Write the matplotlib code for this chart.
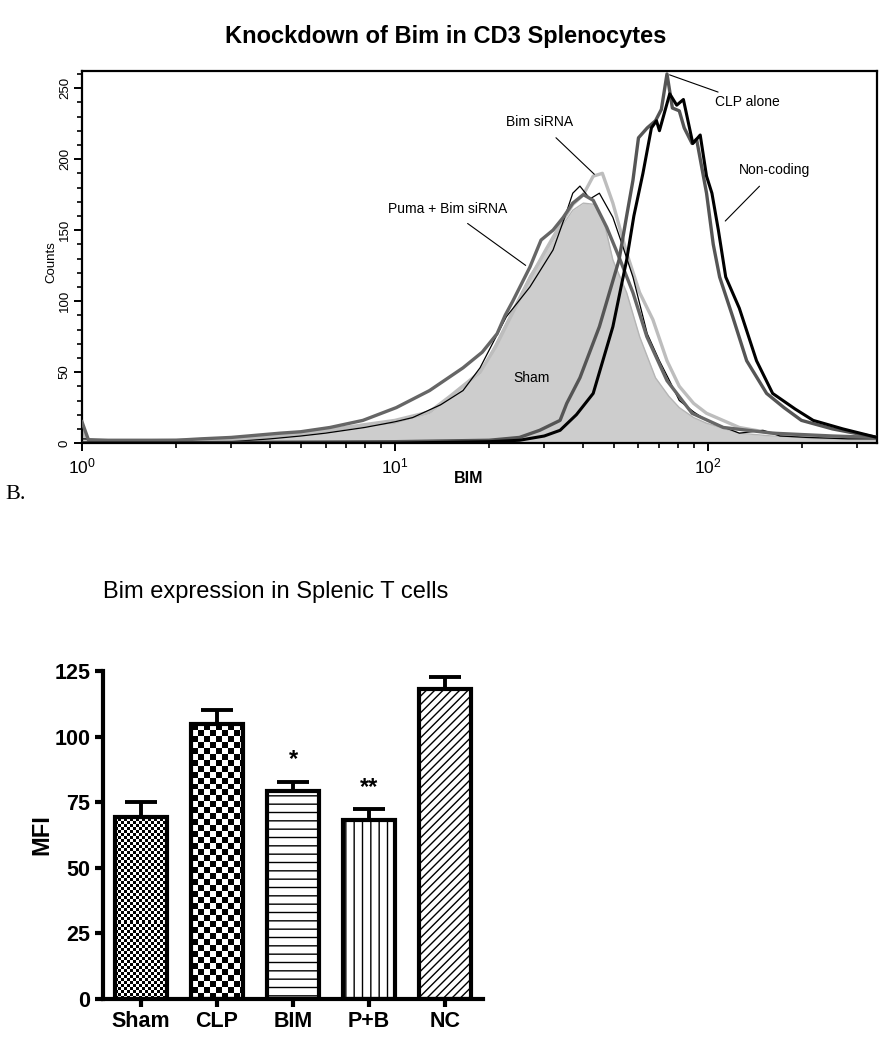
import numpy as np
import matplotlib
matplotlib.use("Agg")
import matplotlib.pyplot as plt
from matplotlib.ticker import LogLocator, MultipleLocator

plt.rcParams['font.family'] = ['Liberation Sans', 'DejaVu Sans']
plt.rcParams['hatch.linewidth'] = 1.0

# ---- panel A: flow histograms (BIM fluorescence vs counts) ----
sham_x = [1.0, 1.05, 2, 3, 4, 5, 6, 7, 8, 10, 12.9, 15, 18.7, 21, 23.8, 27, 30.5, 34, 37, 40, 44, 47,
          49.7, 55, 60.5, 68, 75, 81, 90, 99, 126, 160, 207, 280, 347]
sham_y = [12, 1, 1, 2, 4, 6, 8, 10, 12, 14, 21, 32, 49, 70, 94, 118, 136, 152, 164, 169, 168, 152,
          129, 106, 75, 46, 33, 25, 18, 14, 7, 5, 4, 3, 3]

bim_x = [1.0, 1.05, 2, 3, 4, 5, 6, 8, 10, 12.9, 15, 18.7, 21, 23.8, 27, 30.5, 34, 37, 40, 43, 46,
         49.7, 55, 60.5, 66.7, 74, 81, 90, 99, 126, 160, 207, 280, 347]
bim_y = [10, 1, 2, 3, 5, 7, 9, 13, 16, 22, 33, 50, 68, 92, 116, 137, 155, 168, 175, 188, 190,
         169, 134, 106, 87, 58, 40, 28, 21, 11, 7, 4, 3, 3]

thin_x = [1.0, 2, 3, 4, 5, 6, 8, 10, 11.4, 14, 16.5, 18.7, 22.7, 27, 32, 35, 37, 39, 42, 45, 49.7,
          53, 57.6, 64, 70, 75, 81, 90, 99, 126, 150, 170, 207, 280, 347]
thin_y = [3, 1, 1, 3, 5, 7, 11, 15, 18, 27, 37, 53, 89, 110, 136, 160, 176, 181, 172, 176, 159,
          141, 117, 77, 58, 45, 30, 22, 16, 7, 9, 5, 4, 3, 3]

puma_x = [1.0, 1.05, 1.5, 2, 2.4, 3, 4.3, 5, 6.2, 7.9, 10.1, 12.9, 16.5, 19, 21.2, 22.5, 23.8, 27,
          29.3, 32, 34.5, 37, 40, 43, 47.5, 52, 57.6, 63.8, 74, 89, 112, 161, 250, 347]
puma_y = [15, 2, 2, 2, 3, 4, 7, 8, 11, 16, 25, 37, 53, 64, 77, 90, 100, 124,
          143, 150, 159, 169, 175, 171, 152, 131, 106, 75, 44, 21, 11, 7, 5, 4]

clp_x = [1.0, 10, 20, 25, 29, 33.7, 35.4, 39, 45, 52, 55, 57.6, 60, 64, 68, 71, 74, 77, 81, 84, 89,
         92, 99, 104, 109, 120, 133, 154, 175, 199, 250, 347]
clp_y = [0, 1, 2, 4, 9, 16, 28, 46, 82, 129, 160, 185, 215, 222, 227, 235, 260, 236, 234, 222, 211,
         214, 176, 140, 117, 89, 58, 35, 25, 16, 10, 4]

nc_x = [1.0, 10, 20, 25, 30, 33.7, 38, 43, 49.7, 55, 58, 62, 66, 68.5, 70, 75.5, 79.5, 83.5, 89.5,
        94.5, 99, 103, 108, 114, 126, 143, 161, 190, 217, 270, 347]
nc_y = [0, 0, 1, 2, 5, 9, 20, 35, 82, 129, 160, 190, 222, 227, 220, 246, 238, 242, 211,
        217, 188, 176, 150, 117, 95, 58, 35, 24, 16, 10, 4]

# ---- panel B: bar chart ----
groups = ['Sham', 'CLP', 'BIM', 'P+B', 'NC']
mfi = [69.5, 104.8, 79.4, 68.2, 118.1]
sem = [5.7, 5.3, 3.4, 4.1, 4.5]
stars = ['', '', '*', '**', '']

fig = plt.figure(figsize=(8.92, 10.5), dpi=100)

# top histogram
ax1 = fig.add_axes([0.0919, 0.578, 0.8913, 0.3543])
ax1.fill_between(sham_x, sham_y, color='#cdcdcd', lw=0, zorder=1)
ax1.plot(sham_x, sham_y, color='#b5b5b5', lw=1, zorder=1.5)
ax1.plot(bim_x, bim_y, color='#bdbdbd', lw=2.4, zorder=2)
ax1.plot(thin_x, thin_y, color='black', lw=0.9, zorder=3)
ax1.plot(puma_x, puma_y, color='#666666', lw=2.4, zorder=4)
ax1.plot(clp_x, clp_y, color='#555555', lw=2.4, zorder=5)
ax1.plot(nc_x, nc_y, color='black', lw=2.2, zorder=6)

ax1.set_xscale('log')
ax1.set_xlim(1, 347)
ax1.set_ylim(0, 262)
ax1.xaxis.set_major_locator(LogLocator(base=10))
ax1.xaxis.set_minor_locator(LogLocator(base=10, subs=np.arange(2, 10)))
ax1.yaxis.set_major_locator(MultipleLocator(50))
ax1.yaxis.set_minor_locator(MultipleLocator(10))
for s in ax1.spines.values():
    s.set_linewidth(1.6)
ax1.tick_params(which='major', length=6, width=1.4, labelsize=12.5, direction='out')
ax1.tick_params(which='minor', length=3.5, width=1.2, direction='out')
ax1.tick_params(axis='y', labelrotation=90, pad=2, labelsize=9.5)
for lab in ax1.get_yticklabels():
    lab.set_va('center')
ax1.set_ylabel('Counts', fontsize=9.5)
ax1.yaxis.set_label_coords(-0.031, 0.487)
ax1.set_xlabel('BIM', fontsize=11.5, fontweight='bold')
ax1.xaxis.set_label_coords(0.486, -0.075)

note = dict(fontsize=10, color='black')
ax1.annotate('Bim siRNA', xy=(44, 188), xytext=(29, 226), ha='center', va='center',
             arrowprops=dict(arrowstyle='-', lw=0.8, color='black', shrinkA=6), **note)
ax1.annotate('Puma + Bim siRNA', xy=(26.6, 124), xytext=(14.7, 165), ha='center', va='center',
             arrowprops=dict(arrowstyle='-', lw=0.8, color='black', shrinkA=6), **note)
ax1.annotate('CLP alone', xy=(74, 260), xytext=(105, 240), ha='left', va='center',
             arrowprops=dict(arrowstyle='-', lw=0.8, color='black', shrinkA=1), **note)
ax1.annotate('Non-coding', xy=(112, 155), xytext=(126, 192), ha='left', va='center',
             arrowprops=dict(arrowstyle='-', lw=0.8, color='black', shrinkA=6), **note)
ax1.text(27.4, 46, 'Sham', ha='center', va='center', **note)

fig.text(0.5, 0.965, 'Knockdown of Bim in CD3 Splenocytes', ha='center', va='center',
         fontsize=17, fontweight='bold')
fig.text(0.006, 0.529, 'B.', ha='left', va='center', fontsize=16, family='Liberation Serif')

# bottom bar chart
ax2 = fig.add_axes([0.1155, 0.0486, 0.426, 0.3124])
x = np.arange(len(groups))
w = 0.68
ax2.set_xlim(-0.5, 4.5)
ax2.set_ylim(0, 125)

ax2.errorbar(x, mfi, yerr=[np.zeros(len(sem)), sem], fmt='none', ecolor='black',
             elinewidth=2.8, capsize=11.5, capthick=2.8, zorder=1, clip_on=False)

hatches = [None, None, '--', '||', '////']
bars = ax2.bar(x, mfi, width=w, color='white', edgecolor='black', lw=0, zorder=2)

# checkerboard fills for Sham (fine) and CLP (coarse)
for idx, ncols in [(0, 126), (1, 64)]:
    nrows = int(round(ncols * 328 / 380))
    board = (np.add.outer(np.arange(nrows), np.arange(ncols)) % 2).astype(float)
    im = ax2.imshow(board, cmap='gray', interpolation='nearest', aspect='auto',
                    extent=[-0.5, 4.5, 0, 125], zorder=2.5, vmin=0, vmax=1)
    im.set_clip_path(bars[idx])

ax2.set_xlim(-0.5, 4.5)
ax2.set_ylim(0, 125)

for i in range(len(groups)):
    ax2.bar(x[i], mfi[i], width=w, facecolor='none', edgecolor='black', lw=3,
            hatch=hatches[i], zorder=3)

for i in range(len(groups)):
    if stars[i]:
        ax2.text(x[i], mfi[i] + sem[i] + 4, stars[i], ha='center', va='bottom',
                 fontsize=17, fontweight='bold')

ax2.spines['top'].set_visible(False)
ax2.spines['right'].set_visible(False)
ax2.spines['left'].set_linewidth(3)
ax2.spines['bottom'].set_linewidth(3)
ax2.set_xticks(x)
ax2.set_xticklabels(groups)
ax2.yaxis.set_major_locator(MultipleLocator(25))
ax2.tick_params(length=6, width=3, direction='out', pad=3, labelsize=15.5)
for lab in ax2.get_xticklabels() + ax2.get_yticklabels():
    lab.set_fontweight('bold')
ax2.set_ylabel('MFI', fontsize=17, fontweight='bold')
ax2.yaxis.set_label_coords(-0.13, 0.5)
fig.text(0.309, 0.436, 'Bim expression in Splenic T cells', ha='center', va='center', fontsize=17)

fig.savefig('out.png', dpi=100, facecolor='white')
